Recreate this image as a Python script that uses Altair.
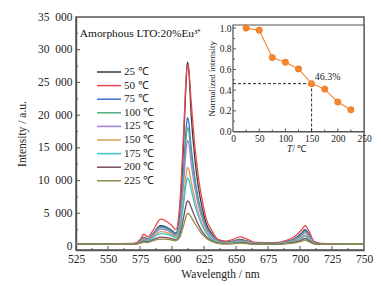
import altair as alt
import pandas as pd

FONT = "Liberation Serif"

# ---------------- data ----------------
wavelength = [525, 550, 570, 575, 578, 581, 585, 591, 597, 600, 603, 606, 609, 611, 612, 613,
              615, 618, 621, 624, 627, 631, 636, 642, 648, 653, 658, 665, 680, 690, 696, 701,
              704, 707, 711, 716, 730, 750]

s25 = [330, 300, 330, 700, 1300, 1050, 1800, 3100, 2750, 2350, 1950, 4800, 15500, 25000, 28100, 27200,
       20000, 13000, 8500, 5500, 3300, 1900, 850, 600, 750, 1000, 800, 450, 420, 700, 1150, 1900,
       2500, 1800, 550, 350, 320, 320]
s50 = [360, 330, 380, 950, 1800, 1400, 2300, 4100, 3600, 3100, 2500, 6200, 17000, 25500, 27700, 27100,
       22000, 15000, 10000, 6600, 4000, 2400, 1000, 750, 1000, 1400, 1100, 550, 500, 900, 1500, 2400,
       3100, 2300, 700, 400, 350, 350]
s75 = [320, 300, 320, 650, 1250, 1000, 1750, 3000, 2650, 2250, 1850, 4000, 11500, 17800, 19600, 19100,
       15000, 10200, 6800, 4600, 2900, 1700, 800, 550, 700, 950, 750, 420, 400, 650, 1050, 1800,
       2400, 1700, 520, 340, 310, 310]
s100 = [320, 300, 320, 630, 1200, 970, 1700, 2850, 2550, 2100, 1750, 3700, 10600, 16400, 18100, 17700,
        14000, 9600, 6400, 4300, 2700, 1600, 760, 520, 660, 900, 700, 400, 380, 620, 1000, 1700,
        2250, 1600, 500, 330, 300, 300]
s125 = [310, 290, 310, 590, 1100, 900, 1600, 2600, 2350, 1950, 1600, 3300, 9400, 14600, 16100, 15800,
        12600, 8700, 5900, 3900, 2500, 1450, 700, 480, 600, 820, 650, 380, 360, 580, 920, 1550,
        2050, 1450, 470, 320, 300, 300]
s150 = [300, 280, 300, 530, 950, 800, 1400, 2200, 2000, 1700, 1400, 2700, 7200, 10900, 12000, 11800,
        9800, 7000, 4800, 3200, 2100, 1200, 600, 420, 520, 700, 560, 340, 330, 500, 780, 1300,
        1700, 1200, 420, 300, 290, 290]
s175 = [300, 280, 300, 500, 850, 730, 1250, 1900, 1750, 1500, 1250, 2400, 6300, 9500, 10400, 10200,
        8600, 6200, 4300, 2900, 1900, 1100, 550, 400, 480, 640, 520, 330, 320, 460, 700, 1150,
        1500, 1050, 400, 300, 290, 290]
s200 = [290, 270, 290, 450, 700, 620, 950, 1350, 1250, 1100, 950, 1700, 4300, 6300, 6900, 6800,
        5900, 4400, 3100, 2100, 1400, 850, 450, 350, 400, 520, 430, 300, 300, 400, 580, 900,
        1150, 820, 360, 290, 280, 280]
s225 = [280, 260, 280, 400, 600, 540, 800, 1050, 1000, 900, 800, 1300, 3100, 4500, 5000, 4950,
        4400, 3400, 2500, 1700, 1150, 700, 400, 320, 360, 450, 380, 280, 280, 360, 500, 720,
        900, 650, 330, 280, 270, 270]

series_labels = ["25 \u2103", "50 \u2103", "75 \u2103", "100 \u2103", "125 \u2103",
                 "150 \u2103", "175 \u2103", "200 \u2103", "225 \u2103"]
series_values = [s25, s50, s75, s100, s125, s150, s175, s200, s225]
series_colors = ["#3a3a3a", "#e8484a", "#3c6fd0", "#50ad7e", "#9e82d6",
                 "#d6a050", "#36c6cc", "#7c4d5c", "#8f8c4e"]

# inset data
inset_T = [25, 50, 75, 100, 125, 150, 175, 200, 225]
inset_norm = [1.0, 0.98, 0.715, 0.67, 0.605, 0.463, 0.41, 0.285, 0.21]
marker_T = 150
marker_norm = 0.463
marker_text = "46.3%"

x_major = [550, 575, 600, 625, 650, 675, 700, 725]
x_minor = [537.5, 562.5, 587.5, 612.5, 637.5, 662.5, 687.5, 712.5, 737.5]
y_major = [5000, 10000, 15000, 20000, 25000, 30000]
y_minor = [2500, 7500, 12500, 17500, 22500, 27500, 32500]
x_labels = [525, 550, 575, 600, 625, 650, 675, 700, 725, 750]
y_labels = [0, 5000, 10000, 15000, 20000, 25000, 30000, 35000]

ix_major = [50, 100, 150, 200]
ix_minor = [25, 75, 125, 175, 225]
iy_major = [0.2, 0.4, 0.6, 0.8, 1.0]
iy_minor = [0.1, 0.3, 0.5, 0.7, 0.9]
ix_labels = [0, 50, 100, 150, 200, 250]
iy_labels = [0, 0.2, 0.4, 0.6, 0.8, 1.0]

annotation = "Amorphous LTO:20%Eu\u00b3\u207a"
inset_xtitle_italic = "T"
inset_xtitle_rest = "\u2009/ \u2103"

# ---------------- tables ----------------
rows = []
for k, (lab, vals) in enumerate(zip(series_labels, series_values)):
    for w, v in zip(wavelength, vals):
        rows.append({"wl": w, "I": v, "T": lab, "k": k})
df = pd.DataFrame(rows)

W, H = 288, 233
AX = "#555555"
TXT = "#222222"

xs = alt.Scale(domain=[525, 750], nice=False, zero=False)
ys = alt.Scale(domain=[-610, 35000], nice=False, zero=False)

X_AX = alt.Axis(title="Wavelength / nm", values=x_labels, format="d", ticks=False, grid=False,
                labelPadding=3, titlePadding=4, labelOverlap=False, labelFlush=False,
                labelBound=False)
Y_AX = alt.Axis(title="Intensity / a.u.", values=y_labels, ticks=False, grid=False,
                labelExpr="replace(format(datum.value, ','), ',', '\u2002')",
                labelPadding=4, titlePadding=10, labelOverlap=False, labelFlush=False,
                labelBound=False)


def MX(field="wl:Q"):
    return alt.X(field, scale=xs, axis=X_AX)


def MY(field="I:Q"):
    return alt.Y(field, scale=ys, axis=Y_AX)


lines = alt.Chart(df).mark_line(strokeWidth=1.3, interpolate="monotone").encode(
    x=MX(), y=MY(),
    color=alt.Color("T:N", scale=alt.Scale(domain=series_labels, range=series_colors),
                    legend=alt.Legend(title=None, orient="none", legendX=26, legendY=48,
                                      symbolType="M-2,0H2", symbolSize=144,
                                      symbolStrokeWidth=1.5, labelFont=FONT,
                                      labelFontSize=11, labelColor=TXT,
                                      labelOffset=8, rowPadding=1.6, padding=0)),
    order=alt.Order("k:Q"),
)

xt_major = alt.Chart(pd.DataFrame({"wl": x_major})).mark_rule(color=AX, strokeWidth=1).encode(
    x=MX(), y=alt.value(H), y2=alt.value(H - 4))
xt_minor = alt.Chart(pd.DataFrame({"wl": x_minor})).mark_rule(color=AX, strokeWidth=1).encode(
    x=MX(), y=alt.value(H), y2=alt.value(H - 2))
yt_major = alt.Chart(pd.DataFrame({"I": y_major})).mark_rule(color=AX, strokeWidth=1).encode(
    y=MY(), x=alt.value(0), x2=alt.value(4))
yt_minor = alt.Chart(pd.DataFrame({"I": y_minor})).mark_rule(color=AX, strokeWidth=1).encode(
    y=MY(), x=alt.value(0), x2=alt.value(2))

ann = alt.Chart(pd.DataFrame({"wl": [528], "I": [32400], "txt": [annotation]})).mark_text(
    align="left", baseline="middle", font=FONT, fontSize=11.4, color="#111111").encode(
    x=MX(), y=MY(), text="txt:N")

main = alt.layer(lines, xt_major, xt_minor, yt_major, yt_minor, ann)

# ---------------- inset ----------------
IX0, IX1 = 157, 288
IY0, IY1 = 114.5, 8
ixs = alt.Scale(domain=[0, 250], range=[IX0, IX1], nice=False, zero=False)
iys = alt.Scale(domain=[0, 1.03], range=[IY0, IY1], nice=False, zero=False)

IX_AX = alt.Axis(orient="bottom", offset=-(H - IY0), values=ix_labels, ticks=False,
                 grid=False, title=None, labelFontSize=9.5,
                 labelPadding=2, domainWidth=1.2, labelOverlap=False,
                 labelFlush=False)
IY_AX = alt.Axis(orient="left", offset=-IX0, values=iy_labels, format=".1f",
                 ticks=False, grid=False, title="Normalized intensity", labelFontSize=9.5,
                 titleFontSize=9, labelPadding=2, titlePadding=3, domainWidth=1.2,
                 labelOverlap=False, labelFlush=False)


def IX(field="t:Q"):
    return alt.X(field, scale=ixs, axis=IX_AX)


def IY(field="n:Q"):
    return alt.Y(field, scale=iys, axis=IY_AX)


frame = alt.Chart(pd.DataFrame({"t": [0], "t2": [250], "n": [0], "n2": [1.03]})).mark_rect(
    fill="white", stroke=AX, strokeWidth=1.2).encode(
    x=IX(), x2="t2:Q", y=IY(), y2="n2:Q")

dash = alt.Chart(pd.DataFrame({"t": [0, marker_T], "t2": [marker_T, marker_T],
                               "n": [marker_norm, 0], "n2": [marker_norm, marker_norm]})).mark_rule(
    color="#111111", strokeWidth=0.9, strokeDash=[3, 2]).encode(
    x=IX(), x2="t2:Q", y=IY(), y2="n2:Q")

idf = pd.DataFrame({"t": inset_T, "n": inset_norm})
iline = alt.Chart(idf).mark_line(color="#f5852c", strokeWidth=1.1).encode(x=IX(), y=IY())
ipts = alt.Chart(idf).mark_circle(size=40, color="#f7872e", opacity=1,
                                  stroke="#e56d14", strokeWidth=0.6).encode(x=IX(), y=IY())

ilabel = alt.Chart(pd.DataFrame({"t": [marker_T + 6], "n": [marker_norm + 0.06],
                                 "txt": [marker_text]})).mark_text(
    align="left", baseline="middle", font=FONT, fontSize=10, color=TXT).encode(
    x=IX(), y=IY(), text="txt:N")

ititle_T = alt.Chart(pd.DataFrame({"t": [113], "n": [-0.17], "txt": [inset_xtitle_italic]})).mark_text(
    align="right", baseline="middle", font=FONT, fontSize=9.5, fontStyle="italic",
    color=TXT).encode(x=IX(), y=IY(), text="txt:N")
ititle_rest = alt.Chart(pd.DataFrame({"t": [113], "n": [-0.17], "txt": [inset_xtitle_rest]})).mark_text(
    align="left", baseline="middle", font=FONT, fontSize=9.5, color=TXT).encode(
    x=IX(), y=IY(), text="txt:N")

ixt_major = alt.Chart(pd.DataFrame({"t": ix_major})).mark_rule(color=AX, strokeWidth=1).encode(
    x=IX(), y=alt.value(IY0), y2=alt.value(IY0 - 3))
ixt_minor = alt.Chart(pd.DataFrame({"t": ix_minor})).mark_rule(color=AX, strokeWidth=1).encode(
    x=IX(), y=alt.value(IY0), y2=alt.value(IY0 - 2))
iyt_major = alt.Chart(pd.DataFrame({"n": iy_major})).mark_rule(color=AX, strokeWidth=1).encode(
    y=IY(), x=alt.value(IX0), x2=alt.value(IX0 + 3))
iyt_minor = alt.Chart(pd.DataFrame({"n": iy_minor})).mark_rule(color=AX, strokeWidth=1).encode(
    y=IY(), x=alt.value(IX0), x2=alt.value(IX0 + 2))

inset = alt.layer(frame, ixt_major, ixt_minor, iyt_major, iyt_minor, dash, iline, ipts, ilabel,
                  ititle_T, ititle_rest)

chart = alt.layer(main, inset).resolve_scale(
    x="independent", y="independent", color="independent"
).resolve_axis(x="independent", y="independent").properties(
    width=W, height=H,
    background="white",
    padding={"left": 76, "top": 17, "right": 17, "bottom": 36},
    autosize=alt.AutoSizeParams(type="none"),
).configure_view(
    stroke=AX, strokeWidth=1.5
).configure_axis(
    labelFont=FONT, titleFont=FONT, labelFontSize=11.5, titleFontSize=11.5,
    titleFontWeight="normal", labelColor=TXT, titleColor=TXT,
    domainColor=AX, domainWidth=1.5, labelFlush=False, labelOverlap=False,
)

chart.save("out.html", embed_options={"renderer": "svg", "actions": False})
